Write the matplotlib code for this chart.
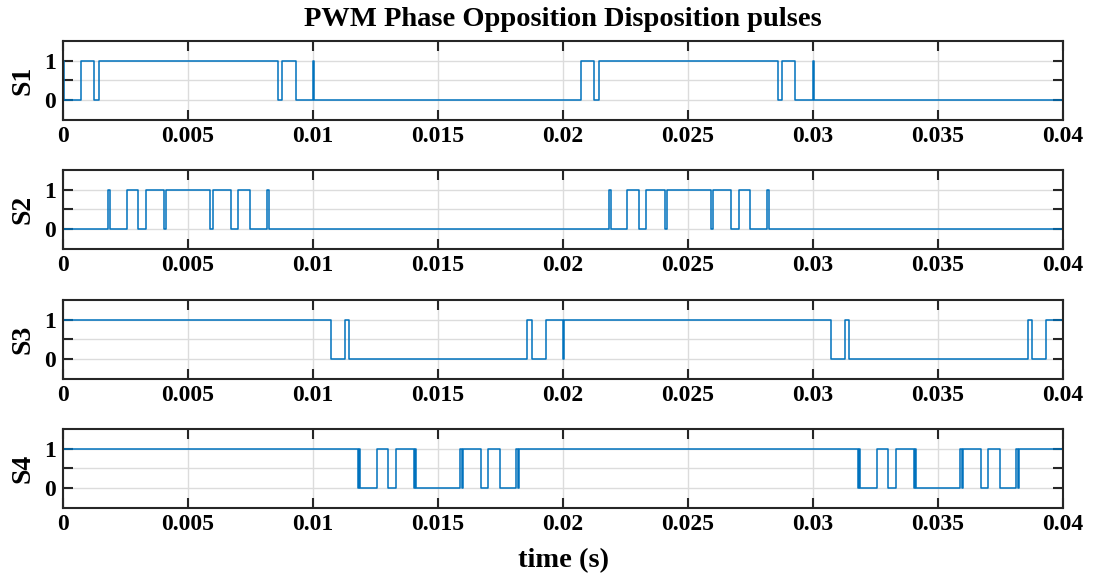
import matplotlib
matplotlib.use('Agg')
import matplotlib.pyplot as plt

# Switching instants (s) of the four gate signals; each entry toggles the level
t_end = 0.04

s1_start = 1
s1_edges = [0.00003, 0.00072, 0.00125, 0.00143, 0.00859, 0.00875, 0.00931, 0.01000, 0.01003,
            0.02070, 0.02125, 0.02143, 0.02859, 0.02876, 0.02929, 0.03000, 0.03003]

s2_start = 0
s2_edges = [0.00179, 0.00188, 0.00255, 0.00301, 0.00332, 0.00405, 0.00413, 0.00589, 0.00599,
            0.00670, 0.00701, 0.00748, 0.00814, 0.00822,
            0.02183, 0.02191, 0.02255, 0.02303, 0.02332, 0.02409, 0.02415, 0.02591, 0.02599,
            0.02671, 0.02703, 0.02749, 0.02815, 0.02824]

s3_start = 1
s3_edges = [0.01071, 0.01127, 0.01144, 0.01857, 0.01876, 0.01931, 0.02000, 0.02003,
            0.03072, 0.03129, 0.03145, 0.03859, 0.03877, 0.03932]

s4_start = 1
s4_edges = [0.01179, 0.01184, 0.01188, 0.01255, 0.01301, 0.01332, 0.01405, 0.01409, 0.01413,
            0.01589, 0.01594, 0.01599, 0.01670, 0.01701, 0.01748, 0.01813, 0.01818, 0.01823,
            0.03179, 0.03184, 0.03188, 0.03255, 0.03301, 0.03332, 0.03405, 0.03409, 0.03413,
            0.03589, 0.03594, 0.03599, 0.03670, 0.03701, 0.03748, 0.03813, 0.03818, 0.03823]

signals = [('S1', s1_start, s1_edges), ('S2', s2_start, s2_edges),
           ('S3', s3_start, s3_edges), ('S4', s4_start, s4_edges)]

xticks = [0, 0.005, 0.01, 0.015, 0.02, 0.025, 0.03, 0.035, 0.04]
xticklabels = ['0', '0.005', '0.01', '0.015', '0.02', '0.025', '0.03', '0.035', '0.04']

plt.rcParams['font.family'] = 'Liberation Serif'
plt.rcParams['font.weight'] = 'bold'

W, H = 1101, 578
fig = plt.figure(figsize=(W / 100, H / 100), dpi=100)

tops = [41, 170, 300, 429]
ax_h = 78.5
left, width = 63, 1000
frame = '#262626'

for (name, start, edges), top in zip(signals, tops):
    ax = fig.add_axes([left / W, 1 - (top + ax_h) / H, width / W, ax_h / H])
    t = [0] + edges + [t_end]
    v = [start]
    for _ in edges:
        v.append(1 - v[-1])
    v.append(v[-1])
    ax.step(t, v, where='post', color='#0072BD', lw=1.1)

    ax.set_xlim(0, t_end)
    ax.set_ylim(-0.5, 1.5)
    ax.set_xticks(xticks)
    ax.set_xticklabels(xticklabels)
    ax.set_yticks([0, 0.5, 1])
    ax.set_yticklabels(['0', '', '1'])
    ax.grid(True, color='#dcdcdc', lw=1.0)
    ax.set_axisbelow(True)
    ax.tick_params(direction='in', length=7, width=1.5, color=frame,
                   top=True, right=True, labelsize=17, pad=5)
    for sp in ax.spines.values():
        sp.set_linewidth(1.5)
        sp.set_color(frame)
    for lab in ax.get_xticklabels() + ax.get_yticklabels():
        lab.set_fontweight('bold')
    fig.text(23 / W, 1 - (top + ax_h / 2) / H, name, rotation=90,
             ha='center', va='center', fontsize=20, fontweight='bold')

fig.text((left + width / 2) / W, 1 - 20 / H, 'PWM Phase Opposition Disposition pulses',
         ha='center', va='center', fontsize=20.5, fontweight='bold')
fig.text((left + width / 2) / W, 1 - 561 / H, 'time (s)',
         ha='center', va='center', fontsize=20.5, fontweight='bold')

fig.savefig('out.png', dpi=100)
